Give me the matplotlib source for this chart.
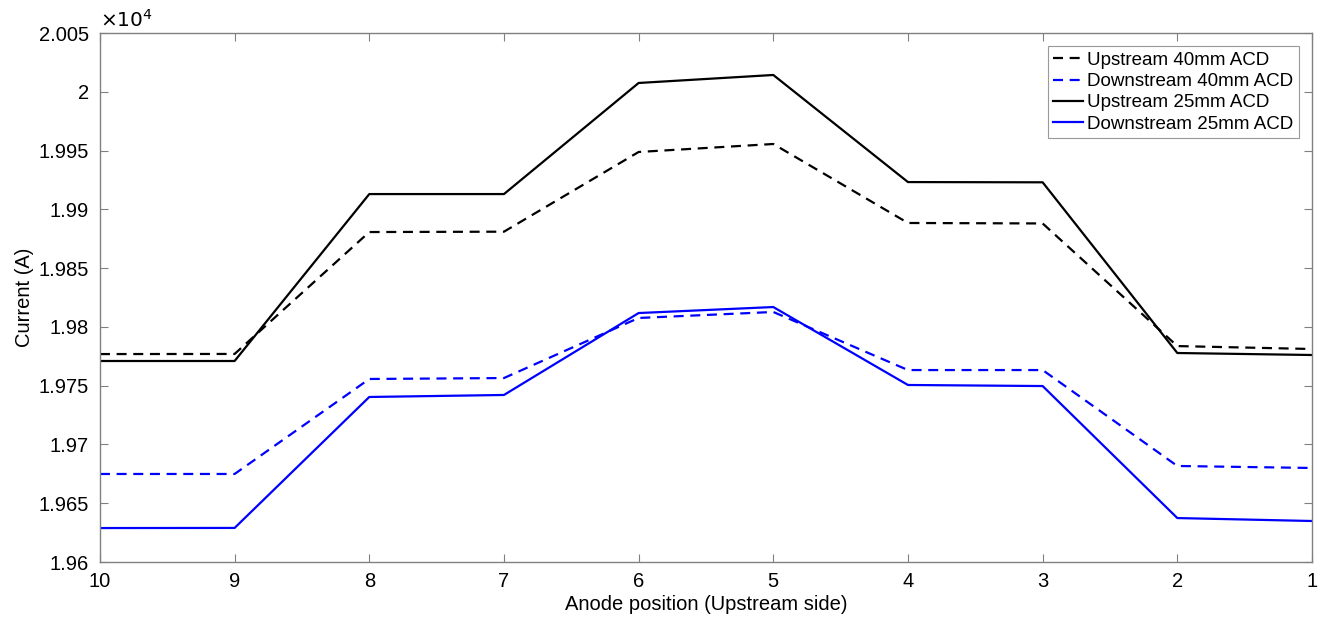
import matplotlib
matplotlib.use("Agg")
import matplotlib.pyplot as plt
from matplotlib.ticker import FuncFormatter, FixedLocator

plt.rcParams['font.family'] = ['Liberation Sans', 'DejaVu Sans']

positions = [10, 9, 8, 7, 6, 5, 4, 3, 2, 1]
up_40 = [19776.9, 19777.0, 19880.7, 19881.0, 19948.8, 19955.6, 19888.4, 19888.0, 19783.7, 19781.2]
down_40 = [19674.9, 19674.9, 19755.7, 19756.5, 19807.6, 19812.7, 19763.3, 19763.3, 19681.7, 19680.0]
up_25 = [19771.0, 19771.0, 19913.0, 19913.0, 20007.5, 20014.3, 19923.2, 19923.0, 19777.8, 19776.1]
down_25 = [19628.9, 19629.0, 19740.4, 19742.1, 19811.8, 19816.9, 19750.6, 19749.7, 19637.4, 19634.9]
y_ticks = [19600, 19650, 19700, 19750, 19800, 19850, 19900, 19950, 20000, 20050]

fig = plt.figure(figsize=(13.29, 6.17), dpi=100)
ax = fig.add_axes([0.0752, 0.0891, 0.912, 0.8574])

dash = (4.5, 3)
ax.plot(positions, up_40, color='black', lw=1.6, linestyle=(0, dash), label='Upstream 40mm ACD')
ax.plot(positions, down_40, color='#0000ff', lw=1.6, linestyle=(0, dash), label='Downstream 40mm ACD')
ax.plot(positions, up_25, color='black', lw=1.6, label='Upstream 25mm ACD')
ax.plot(positions, down_25, color='#0000ff', lw=1.6, label='Downstream 25mm ACD')

ax.set_xlim(10, 1)
ax.set_ylim(19600, 20050)
ax.xaxis.set_major_locator(FixedLocator(positions))
ax.yaxis.set_major_locator(FixedLocator(y_ticks))
ax.yaxis.set_major_formatter(FuncFormatter(lambda v, p: f"{v/1e4:g}"))
ax.tick_params(direction='in', top=True, right=True, length=6, width=0.8,
               color='#808080', labelsize=14.5, labelcolor='black')
ax.tick_params(axis='x', pad=7)
ax.tick_params(axis='y', pad=8)
for s in ax.spines.values():
    s.set_color('#808080')
    s.set_linewidth(1.0)

ax.text(0.0, 1.004, r'$\times10^4$', transform=ax.transAxes, fontsize=14.5, ha='left', va='bottom')

ax.set_xlabel('Anode position (Upstream side)', fontsize=14.5, labelpad=3)
ax.set_ylabel('Current (A)', fontsize=14.5, labelpad=3)

leg = ax.legend(loc='upper right', fontsize=13.5, handlelength=1.6, handletextpad=0.2,
                borderaxespad=0.7, frameon=True, fancybox=False, labelspacing=0.22,
                borderpad=0.3)
leg.get_frame().set_edgecolor('#808080')
leg.get_frame().set_linewidth(0.8)

fig.savefig('out.png', dpi=100)
